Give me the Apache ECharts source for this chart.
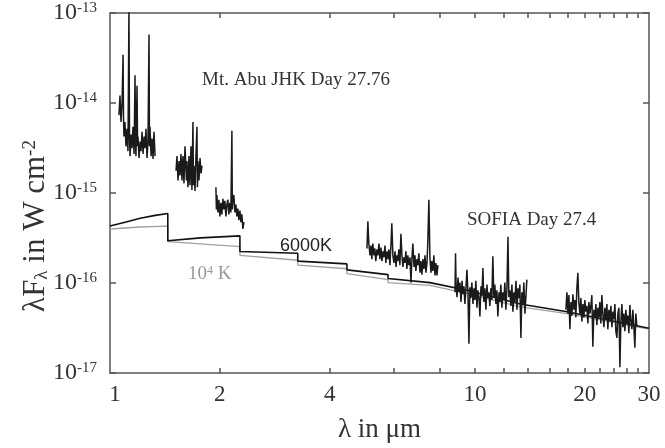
<!DOCTYPE html>
<html>
<head>
<meta charset="utf-8">
<script src="https://cdn.jsdelivr.net/npm/echarts@6.0.0/dist/echarts.min.js"></script>
<style>
html, body { margin: 0; padding: 0; background: #fff; }
#chart { width: 665px; height: 448px; }
</style>
</head>
<body>
<div id="chart"></div>
<script>
// tick marks / labels
const xLabelValues = [1, 2, 4, 10, 20, 30];
const xTickValues = [2, 4, 6, 8, 10, 12, 14, 16, 18, 20, 22, 24, 26, 28];
const yTickValues = [1e-17, 1e-16, 1e-15, 1e-14, 1e-13];

// Mt. Abu spectra, [wavelength um, lambda F_lambda W cm-2]
const abuJ = [
  [1.058, 7.33e-15], [1.065, 1.21e-14], [1.072, 6.15e-15], [1.079, 1.0e-14], [1.086, 3.43e-14],
  [1.089, 6.97e-15], [1.092, 4.24e-15], [1.099, 6.15e-15], [1.106, 3.30e-15], [1.113, 5.17e-15],
  [1.120, 2.92e-15], [1.127, 1.1e-13], [1.131, 4.24e-15], [1.135, 2.57e-15], [1.142, 4.45e-15],
  [1.149, 3.14e-15], [1.156, 5.43e-15], [1.164, 2.71e-15], [1.171, 2.03e-14], [1.175, 3.74e-15],
  [1.178, 2.57e-15], [1.186, 1.55e-14], [1.190, 3.30e-15], [1.193, 4.24e-15], [1.201, 2.45e-15],
  [1.209, 3.74e-15], [1.216, 2.92e-15], [1.224, 4.80e-15], [1.232, 2.71e-15], [1.240, 4.24e-15],
  [1.247, 3.14e-15], [1.255, 5.17e-15], [1.263, 2.45e-15], [1.271, 3.74e-15], [1.279, 5.78e-14],
  [1.283, 3.30e-15], [1.287, 5.43e-15], [1.296, 2.57e-15], [1.304, 4.03e-15], [1.312, 2.39e-15],
  [1.320, 4.80e-15], [1.329, 2.57e-15]
];
const abuH = [
  [1.517, 1.77e-15], [1.526, 2.57e-15], [1.536, 1.38e-15], [1.546, 2.27e-15], [1.555, 1.57e-15],
  [1.565, 2.71e-15], [1.575, 1.38e-15], [1.585, 2.57e-15], [1.595, 1.28e-15], [1.605, 3.30e-15],
  [1.615, 3.47e-15], [1.620, 1.38e-15], [1.625, 2.27e-15], [1.636, 1.16e-15], [1.646, 2.57e-15],
  [1.656, 1.22e-15], [1.667, 3.30e-15], [1.677, 1.08e-15], [1.688, 6.15e-15], [1.693, 1.22e-15],
  [1.699, 2.01e-15], [1.710, 1.05e-15], [1.720, 2.57e-15], [1.731, 5.43e-15], [1.736, 1.16e-15],
  [1.742, 2.27e-15], [1.753, 1.38e-15], [1.765, 2.45e-15], [1.776, 1.65e-15], [1.787, 2.01e-15]
];
const abuK = [
  [1.951, 1.16e-15], [1.957, 6.56e-16], [1.963, 9.52e-16], [1.976, 6.08e-16], [1.988, 8.41e-16],
  [2.001, 5.50e-16], [2.013, 7.80e-16], [2.026, 5.78e-16], [2.039, 8.61e-16], [2.052, 6.56e-16],
  [2.065, 8.20e-16], [2.078, 5.50e-16], [2.091, 7.42e-16], [2.104, 8.41e-16], [2.117, 5.78e-16],
  [2.131, 7.80e-16], [2.144, 6.08e-16], [2.158, 4.92e-15], [2.164, 6.56e-16], [2.171, 8.41e-16],
  [2.185, 9.52e-16], [2.199, 6.08e-16], [2.213, 7.42e-16], [2.227, 5.50e-16], [2.241, 6.72e-16],
  [2.255, 4.98e-16], [2.270, 6.39e-16], [2.284, 4.74e-16], [2.298, 5.78e-16], [2.313, 3.98e-16],
  [2.328, 4.74e-16]
];

// SOFIA spectra
const sofia1 = [
  [5.06, 2.42e-16], [5.09, 4.86e-16], [5.12, 2.74e-16], [5.16, 2.03e-16], [5.19, 2.61e-16],
  [5.22, 1.84e-16], [5.25, 2.74e-16], [5.29, 2.03e-16], [5.32, 2.42e-16], [5.35, 1.75e-16],
  [5.39, 2.36e-16], [5.42, 2.03e-16], [5.46, 2.74e-16], [5.49, 1.84e-16], [5.53, 2.48e-16],
  [5.56, 1.75e-16], [5.60, 2.25e-16], [5.63, 1.93e-16], [5.67, 2.61e-16], [5.70, 1.67e-16],
  [5.74, 2.25e-16], [5.78, 1.84e-16], [5.81, 2.36e-16], [5.85, 1.58e-16], [5.89, 2.74e-16],
  [5.92, 4.62e-16], [5.96, 2.03e-16], [6.00, 1.67e-16], [6.04, 2.25e-16], [6.08, 1.51e-16],
  [6.11, 2.03e-16], [6.15, 1.75e-16], [6.19, 2.36e-16], [6.23, 1.58e-16], [6.27, 3.52e-16],
  [6.31, 2.03e-16], [6.35, 1.51e-16], [6.39, 1.93e-16], [6.43, 1.67e-16], [6.47, 2.25e-16],
  [6.51, 1.43e-16], [6.55, 2.03e-16], [6.59, 1.58e-16], [6.64, 1.93e-16], [6.68, 1.01e-16],
  [6.72, 1.84e-16], [6.76, 2.74e-16], [6.81, 1.51e-16], [6.85, 2.03e-16], [6.89, 1.36e-16],
  [6.94, 1.84e-16], [6.98, 1.58e-16], [7.02, 2.14e-16], [7.07, 1.30e-16], [7.11, 1.75e-16],
  [7.16, 1.24e-16], [7.20, 1.84e-16], [7.25, 1.43e-16], [7.30, 2.03e-16], [7.34, 1.30e-16],
  [7.39, 1.67e-16], [7.43, 2.88e-16], [7.48, 8.41e-16], [7.53, 1.89e-16], [7.58, 1.30e-16],
  [7.62, 1.75e-16], [7.67, 1.36e-16], [7.72, 2.03e-16], [7.77, 1.21e-16], [7.82, 1.67e-16],
  [7.87, 1.21e-16], [7.92, 1.58e-16]
];
const sofia2 = [
  [8.82, 7.89e-17], [8.85, 2.14e-16], [8.88, 9.64e-17], [8.93, 6.97e-17], [8.99, 1.15e-16],
  [9.04, 7.89e-17], [9.10, 1.01e-16], [9.16, 6.15e-17], [9.22, 1.06e-16], [9.27, 7.51e-17],
  [9.33, 9.17e-17], [9.39, 5.85e-17], [9.45, 8.72e-17], [9.51, 1.40e-16], [9.57, 7.89e-17],
  [9.63, 2.11e-17], [9.69, 8.94e-17], [9.75, 6.80e-17], [9.81, 1.01e-16], [9.88, 5.85e-17],
  [9.94, 8.72e-17], [10.00, 6.47e-17], [10.06, 1.06e-16], [10.13, 5.30e-17], [10.19, 8.30e-17],
  [10.26, 6.80e-17], [10.32, 4.24e-17], [10.39, 9.17e-17], [10.45, 7.14e-17], [10.52, 1.47e-16],
  [10.58, 6.15e-17], [10.65, 8.72e-17], [10.72, 5.04e-17], [10.79, 9.64e-17], [10.85, 6.80e-17],
  [10.92, 7.89e-17], [10.99, 5.57e-17], [11.06, 8.72e-17], [11.13, 6.47e-17], [11.20, 1.98e-16],
  [11.27, 6.97e-17], [11.34, 9.64e-17], [11.42, 5.85e-17], [11.49, 8.30e-17], [11.56, 4.24e-17],
  [11.64, 7.89e-17], [11.71, 6.15e-17], [11.78, 9.64e-17], [11.86, 5.30e-17], [11.93, 7.89e-17],
  [12.01, 6.47e-17], [12.08, 1.01e-16], [12.16, 5.04e-17], [12.24, 8.72e-17], [12.32, 3.26e-16],
  [12.39, 6.97e-17], [12.47, 8.30e-17], [12.55, 5.57e-17], [12.63, 9.64e-17], [12.71, 4.80e-17],
  [12.79, 7.89e-17], [12.87, 6.15e-17], [12.96, 1.06e-16], [13.04, 5.04e-17], [13.12, 8.72e-17],
  [13.20, 6.80e-17], [13.28, 9.64e-17], [13.37, 2.45e-17], [13.45, 7.89e-17], [13.54, 5.85e-17],
  [13.62, 1.01e-16], [13.71, 4.57e-17], [13.80, 7.14e-17], [13.88, 1.09e-16]
];
const sofia3 = [
  [17.76, 5.04e-17], [17.87, 7.89e-17], [17.99, 4.57e-17], [18.10, 7.33e-17], [18.21, 3.07e-17],
  [18.33, 6.15e-17], [18.44, 4.34e-17], [18.56, 7.51e-17], [18.68, 5.04e-17], [18.79, 6.47e-17],
  [18.91, 4.13e-17], [19.03, 8.72e-17], [19.15, 1.30e-16], [19.28, 5.85e-17], [19.40, 4.57e-17],
  [19.52, 6.80e-17], [19.64, 3.74e-17], [19.77, 5.85e-17], [19.89, 4.13e-17], [20.01, 6.47e-17],
  [20.14, 4.80e-17], [20.27, 5.57e-17], [20.40, 3.56e-17], [20.53, 6.15e-17], [20.66, 4.57e-17],
  [20.79, 5.57e-17], [20.92, 7.33e-17], [21.05, 1.96e-17], [21.19, 5.04e-17], [21.32, 4.13e-17],
  [21.46, 5.85e-17], [21.59, 3.39e-17], [21.73, 5.30e-17], [21.86, 4.13e-17], [22.00, 6.15e-17],
  [22.14, 3.56e-17], [22.28, 7.33e-17], [22.42, 4.57e-17], [22.57, 3.22e-17], [22.71, 5.30e-17],
  [22.85, 3.93e-17], [23.00, 5.85e-17], [23.14, 3.07e-17], [23.29, 5.04e-17], [23.44, 3.74e-17],
  [23.59, 5.57e-17], [23.74, 3.22e-17], [23.89, 4.80e-17], [24.04, 3.93e-17], [24.19, 5.85e-17],
  [24.34, 2.92e-17], [24.50, 2.45e-17], [24.65, 4.57e-17], [24.81, 5.30e-17], [24.97, 1.16e-17],
  [25.12, 3.74e-17], [25.28, 5.85e-17], [25.44, 3.22e-17], [25.60, 4.57e-17], [25.76, 2.92e-17],
  [25.93, 5.04e-17], [26.09, 3.56e-17], [26.26, 4.34e-17], [26.42, 2.77e-17], [26.59, 5.71e-17],
  [26.76, 3.74e-17], [26.93, 3.07e-17], [27.10, 5.04e-17], [27.27, 3.22e-17], [27.44, 1.91e-17],
  [27.61, 4.57e-17], [27.79, 3.30e-17]
];

// model photospheres (band-wise, with steps)
const model6000 = [
  [1.0, 4.29e-16], [1.10, 4.74e-16], [1.21, 5.24e-16], [1.33, 5.64e-16], [1.44, 5.93e-16],
  [1.44, 2.95e-16], [1.77, 3.17e-16], [2.27, 3.34e-16], [2.27, 2.24e-16], [3.27, 2.14e-16],
  [3.27, 1.75e-16], [4.46, 1.63e-16], [4.46, 1.40e-16], [5.78, 1.24e-16], [5.78, 1.12e-16],
  [7.53, 1.01e-16], [7.53, 9.64e-17], [9.51, 8.30e-17], [13.3, 5.85e-17], [17.9, 4.80e-17],
  [30, 3.14e-17]
];
const model1e4 = [
  [1.0, 3.98e-16], [1.21, 4.19e-16], [1.44, 4.29e-16], [1.44, 2.88e-16], [2.27, 2.54e-16],
  [2.27, 2.03e-16], [3.27, 1.79e-16], [3.27, 1.58e-16], [4.46, 1.44e-16], [4.46, 1.27e-16],
  [5.78, 1.09e-16], [5.78, 1.01e-16], [7.53, 9.40e-17], [7.53, 8.94e-17], [9.51, 7.69e-17],
  [13.3, 5.43e-17], [17.9, 4.57e-17], [30, 3.07e-17]
];

const serif = '"Liberation Serif", "DejaVu Serif", serif';
const frame = {color: '#555', width: 1.5};

const chart = echarts.init(document.getElementById('chart'));

const xAxisBase = {
  type: 'log',
  logBase: 10,
  min: 1,
  max: 30,
  axisLine: {show: true, lineStyle: frame},
  axisTick: {show: true, inside: true, length: 5, customValues: xTickValues, lineStyle: frame},
  minorTick: {show: false},
  splitLine: {show: false}
};
const yAxisBase = {
  type: 'log',
  logBase: 10,
  min: 1e-17,
  max: 1e-13,
  axisLine: {show: true, lineStyle: frame},
  axisTick: {show: true, inside: true, length: 6, customValues: yTickValues, lineStyle: frame},
  minorTick: {show: false},
  splitLine: {show: false}
};

const specLine = {width: 1.5, color: '#1a1a1a'};

chart.setOption({
  backgroundColor: '#fff',
  animation: false,
  grid: {left: 110, right: 16, top: 13, bottom: 65},
  xAxis: [
    {
      ...xAxisBase,
      position: 'bottom',
      name: 'λ in μm',
      nameLocation: 'middle',
      nameGap: 43,
      nameTextStyle: {fontFamily: serif, fontSize: 27, color: '#333'},
      axisLabel: {
        customValues: xLabelValues,
        fontFamily: serif,
        fontSize: 23,
        color: '#333',
        margin: 10,
        formatter(v) {
          return v === 1 ? '{one|1}' : String(v);
        },
        rich: {
          one: {fontFamily: serif, fontSize: 23, color: '#333', padding: [0, 0, 0, 10]}
        }
      }
    },
    {...xAxisBase, position: 'top', axisLabel: {show: false}}
  ],
  yAxis: [
    {
      ...yAxisBase,
      position: 'left',
      axisLabel: {
        customValues: yTickValues,
        margin: 13,
        formatter(v) {
          return '{b|10}{s|' + Math.round(Math.log10(v)) + '}';
        },
        rich: {
          b: {fontFamily: serif, fontSize: 24, color: '#333', verticalAlign: 'bottom'},
          s: {fontFamily: serif, fontSize: 15, color: '#333', verticalAlign: 'top'}
        }
      }
    },
    {...yAxisBase, position: 'right', axisLabel: {show: false}}
  ],
  graphic: [
    {
      type: 'text', x: 36, y: 226, rotation: Math.PI / 2,
      style: {
        text: 'λF{sub|λ} in W cm{sup|-2}',
        fontFamily: serif, fontSize: 31, fill: '#333',
        align: 'center', verticalAlign: 'middle',
        rich: {
          sub: {fontFamily: serif, fontSize: 19, fill: '#333', verticalAlign: 'bottom'},
          sup: {fontFamily: serif, fontSize: 19, fill: '#333', verticalAlign: 'top'}
        }
      }
    },
    {
      type: 'text', x: 202, y: 80,
      style: {text: 'Mt. Abu JHK Day 27.76', fontFamily: serif, fontSize: 19, fill: '#333', align: 'left', verticalAlign: 'middle'}
    },
    {
      type: 'text', x: 467, y: 220,
      style: {text: 'SOFIA Day 27.4', fontFamily: serif, fontSize: 19, fill: '#333', align: 'left', verticalAlign: 'middle'}
    },
    {
      type: 'text', x: 280, y: 246,
      style: {text: '6000K', fontFamily: '"Liberation Sans", sans-serif', fontSize: 18, fill: '#222', align: 'left', verticalAlign: 'middle'}
    },
    {
      type: 'text', x: 188, y: 274,
      style: {
        text: '10{sup|4} K', fontFamily: serif, fontSize: 19, fill: '#999', align: 'left', verticalAlign: 'middle',
        rich: {sup: {fontFamily: serif, fontSize: 12, fill: '#999', verticalAlign: 'top'}}
      }
    }
  ],
  series: [
    {name: '10^4 K', data: model1e4, lineStyle: {width: 1.3, color: '#a0a0a0'}},
    {name: '6000K', data: model6000, lineStyle: {width: 1.6, color: '#111'}},
    {name: 'Mt. Abu J', data: abuJ, lineStyle: specLine},
    {name: 'Mt. Abu H', data: abuH, lineStyle: specLine},
    {name: 'Mt. Abu K', data: abuK, lineStyle: specLine},
    {name: 'SOFIA 1', data: sofia1, lineStyle: specLine},
    {name: 'SOFIA 2', data: sofia2, lineStyle: specLine},
    {name: 'SOFIA 3', data: sofia3, lineStyle: specLine}
  ].map(obj => ({
    ...obj,
    type: 'line',
    showSymbol: false,
    symbol: 'none',
    clip: true
  }))
});
</script>
</body>
</html>
